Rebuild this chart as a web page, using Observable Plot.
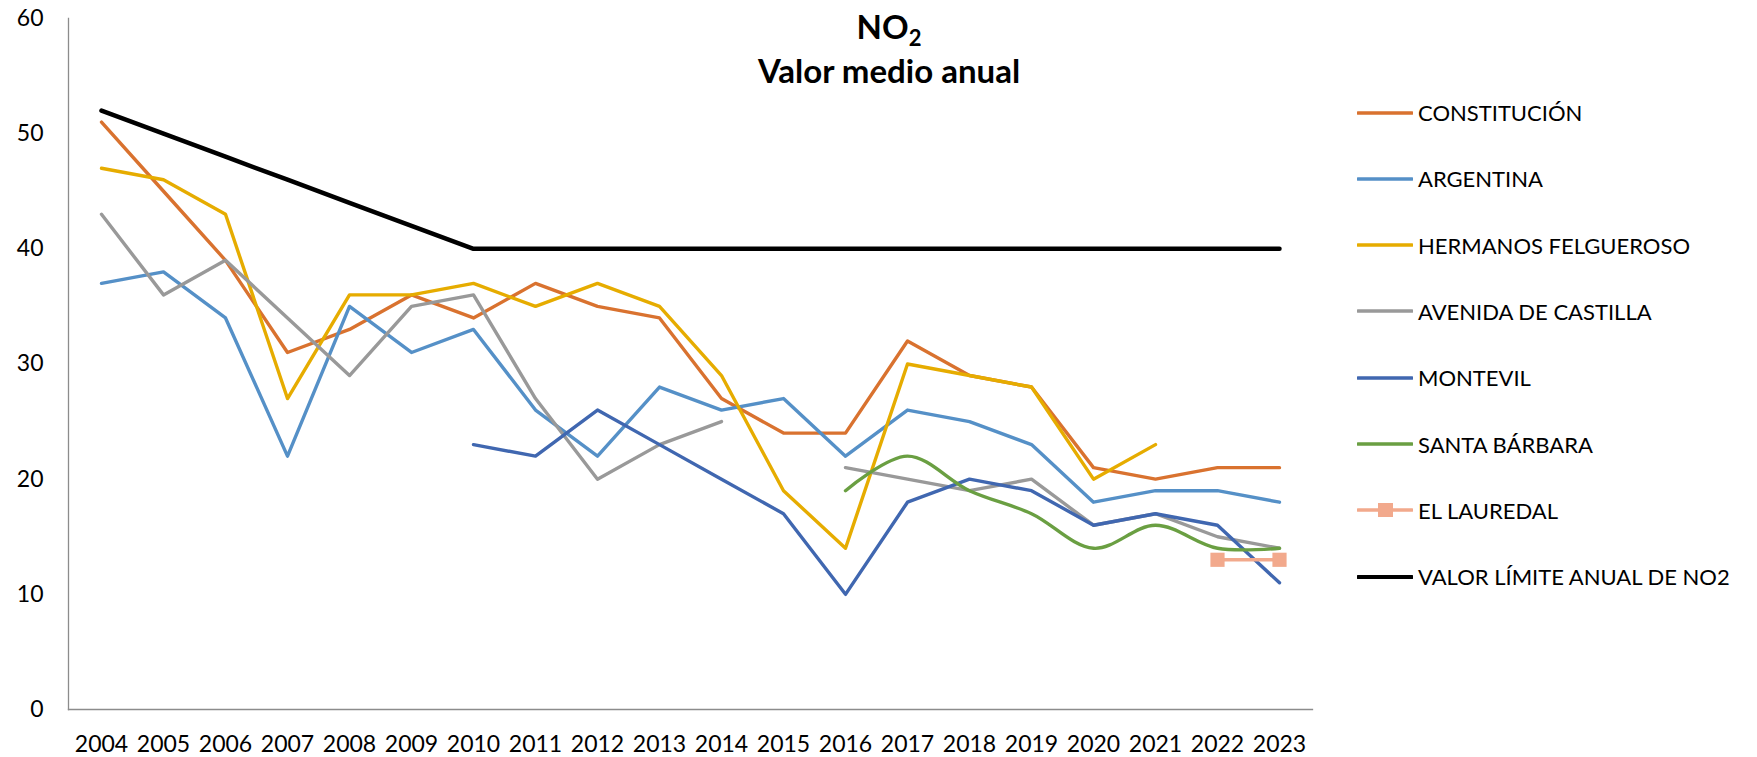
<!DOCTYPE html>
<html>
<head>
<meta charset="utf-8">
<script src="https://cdn.jsdelivr.net/npm/d3@7"></script>
<script src="https://cdn.jsdelivr.net/npm/@observablehq/plot@0.6"></script>
<style>
  html, body { margin: 0; padding: 0; background: #fff; }
  #wrap { position: relative; width: 1757px; height: 757px; font-family: Lato, "Open Sans", sans-serif; }
  #title { position: absolute; left: 889px; top: 4px; transform: translateX(-50%); text-align: center; font-weight: bold; font-size: 33px; line-height: 44px; color: #000; white-space: nowrap; }
  #title sub { font-size: 22px; line-height: 0; vertical-align: -7px; }
  #legend { position: absolute; left: 1357px; top: 0; }
  .row { position: absolute; left: 0; height: 30px; display: flex; align-items: center; white-space: nowrap; font-size: 22px; color: #000; }
  .row svg { margin-right: 5px; }
</style>
</head>
<body>
<div id="wrap">
  <div id="chart"></div>
  <div id="title">NO<sub>2</sub><br>Valor medio anual</div>
  <div id="legend"></div>
</div>
<script>
const years = ["2004","2005","2006","2007","2008","2009","2010","2011","2012","2013","2014","2015","2016","2017","2018","2019","2020","2021","2022","2023"];
const constitucion = [51,45,39,31,33,36,34,37,35,34,27,24,24,32,29,28,21,20,21,21];
const argentina    = [37,38,34,22,35,31,33,26,22,28,26,27,22,26,25,23,18,19,19,18];
const felgueroso   = [47,46,43,27,36,36,37,35,37,35,29,19,14,30,29,28,20,23,null,null];
const castilla     = [43,36,39,34,29,35,36,27,20,23,25,null,21,20,19,20,16,17,15,14];
const montevil     = [null,null,null,null,null,null,23,22,26,23,20,17,10,18,20,19,16,17,16,11];
const santaBarbara = [null,null,null,null,null,null,null,null,null,null,null,null,19,22,19,17,14,16,14,14];
const lauredal     = [null,null,null,null,null,null,null,null,null,null,null,null,null,null,null,null,null,null,13,13];
const limite       = [52,50,48,46,44,42,40,40,40,40,40,40,40,40,40,40,40,40,40,40];

const seriesNames = ["CONSTITUCIÓN","ARGENTINA","HERMANOS FELGUEROSO","AVENIDA DE CASTILLA","MONTEVIL","SANTA BÁRBARA","EL LAUREDAL","VALOR LÍMITE ANUAL DE NO2"];
const seriesValues = [constitucion, argentina, felgueroso, castilla, montevil, santaBarbara, lauredal, limite];
const seriesColors = ["#D9722F","#5590C7","#E6AC00","#999999","#4067B0","#6A9F42","#F2A98C","#000000"];
const yTicks = [0,10,20,30,40,50,60];

const table = seriesValues.map(vals => years.map((y, i) => ({year: y, value: vals[i]})));
const nonNull = d => d.value != null;

const lineMarks = table.map((rows, k) => {
  const opts = {x: "year", y: "value", stroke: seriesColors[k], strokeWidth: k === 7 ? 4.5 : 3.4, strokeLinejoin: "round", strokeLinecap: "round"};
  if (k === 5) return Plot.line(rows.filter(nonNull), {...opts, curve: "catmull-rom"});
  return Plot.line(rows, opts);
});

const plot = Plot.plot({
  width: 1757,
  height: 757,
  marginLeft: 68,
  marginRight: 445,
  marginTop: 18,
  marginBottom: 48,
  style: {fontFamily: "Lato, 'Open Sans', sans-serif", fontSize: "23px", color: "#000", background: "#fff"},
  x: {type: "point", domain: years, padding: 0.5, label: null},
  y: {domain: [0, 60], label: null},
  marks: [
    Plot.axisY({ticks: yTicks, tickSize: 0, tickPadding: 25, fontSize: 23, fill: "#000", label: null}),
    Plot.axisX({tickSize: 0, tickPadding: 26, fontSize: 23, fill: "#000", label: null}),
    Plot.frame({anchor: "left", stroke: "#8c8c8c", strokeWidth: 1.3}),
    Plot.frame({anchor: "bottom", stroke: "#8c8c8c", strokeWidth: 1.3}),
    ...lineMarks,
    Plot.dot(table[6].filter(nonNull), {x: "year", y: "value", symbol: "square", r: 8, fill: seriesColors[6], stroke: "none"})
  ]
});
document.getElementById("chart").appendChild(plot);

// Legend
const legend = document.getElementById("legend");
seriesNames.forEach((name, k) => {
  const row = document.createElement("div");
  row.className = "row";
  row.style.top = (112.5 + 66.3 * k - 15) + "px";
  const svg = d3.create("svg").attr("width", 56).attr("height", 30);
  svg.append("line").attr("x1", 1).attr("x2", 55).attr("y1", 15).attr("y2", 15)
    .attr("stroke", seriesColors[k]).attr("stroke-width", k === 7 ? 4 : 3.5).attr("stroke-linecap", "round");
  if (k === 6) svg.append("rect").attr("x", 21).attr("y", 8).attr("width", 15).attr("height", 14).attr("fill", seriesColors[k]);
  row.appendChild(svg.node());
  const span = document.createElement("span");
  span.textContent = name;
  row.appendChild(span);
  legend.appendChild(row);
});
</script>
</body>
</html>
